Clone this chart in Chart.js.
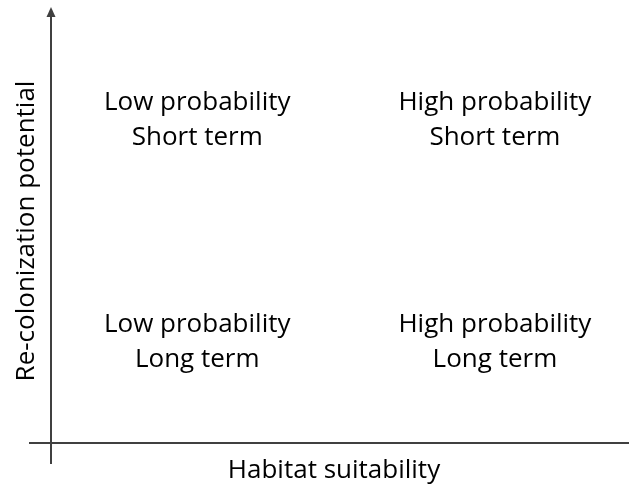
<!DOCTYPE html>
<html>
<head>
<meta charset="utf-8">
<script src="https://cdn.jsdelivr.net/npm/chart.js@4.4.0/dist/chart.umd.min.js"></script>
<style>
html, body { margin: 0; padding: 0; background: #fff; }
#wrap { width: 629px; height: 486px; position: relative; }
</style>
</head>
<body>
<div id="wrap"><canvas id="quadrant_chart"></canvas></div>
<script>
// quadrant positions (axis units 0..1)
var colX = [0.253, 0.768];
var rowY = [0.745, 0.237];
// labels: first line by column, second line by row
var probLabels = ["Low probability", "High probability"];
var termLabels = ["Short term", "Long term"];
var xTitle = "Habitat suitability";
var yTitle = "Re-colonization potential";

var FONT = "'Open Sans', sans-serif";
var AXIS_COLOR = '#404040';

var points = [];
for (var r = 0; r < rowY.length; r++) {
	for (var c = 0; c < colX.length; c++) {
		points.push({x: colX[c], y: rowY[r], lines: [probLabels[c], termLabels[r]]});
	}
}

var quadrantPlugin = {
	id: 'quadrant',
	afterDatasetsDraw: function(chart) {
		var ctx = chart.ctx;
		var area = chart.chartArea;
		var x0 = chart.scales.x.getPixelForValue(0);
		var y0 = chart.scales.y.getPixelForValue(0);

		ctx.save();
		// axes
		ctx.strokeStyle = AXIS_COLOR;
		ctx.lineWidth = 2;
		ctx.beginPath();
		ctx.moveTo(x0 - 22, y0);
		ctx.lineTo(area.right, y0);
		ctx.moveTo(x0, y0 + 21);
		ctx.lineTo(x0, area.top + 6);
		ctx.stroke();
		// arrow head on y axis
		ctx.fillStyle = AXIS_COLOR;
		ctx.beginPath();
		ctx.moveTo(x0, area.top);
		ctx.lineTo(x0 - 4.5, area.top + 10);
		ctx.lineTo(x0 + 4.5, area.top + 10);
		ctx.closePath();
		ctx.fill();

		// quadrant labels, placed at the dataset points
		ctx.fillStyle = '#000';
		ctx.font = '26px ' + FONT;
		ctx.textAlign = 'center';
		ctx.textBaseline = 'middle';
		var meta = chart.getDatasetMeta(0);
		meta.data.forEach(function(el, i) {
			var lines = chart.data.datasets[0].data[i].lines;
			ctx.fillText(lines[0], el.x, el.y - 15.5);
			ctx.fillText(lines[1], el.x, el.y + 19.5);
		});

		// axis titles
		ctx.fillText(xTitle, 334, 471);
		ctx.translate(27, 231);
		ctx.rotate(-Math.PI / 2);
		ctx.fillText(yTitle, 0, 0);
		ctx.restore();
	}
};

var quadrant_config = {
	type: 'scatter',
	data: {
		datasets: [{
			data: points,
			pointRadius: 0,
			pointHoverRadius: 0
		}]
	},
	options: {
		animation: false,
		responsive: true,
		maintainAspectRatio: false,
		events: [],
		layout: {
			padding: {left: 51, top: 7, right: 0, bottom: 43}
		},
		scales: {
			x: {display: false, min: 0, max: 1},
			y: {display: false, min: 0, max: 1}
		},
		plugins: {
			legend: {display: false},
			tooltip: {enabled: false}
		}
	},
	plugins: [quadrantPlugin]
};

document.addEventListener("DOMContentLoaded", function(){
	new Chart(document.getElementById("quadrant_chart").getContext('2d'), quadrant_config);
});
</script>
</body>
</html>
